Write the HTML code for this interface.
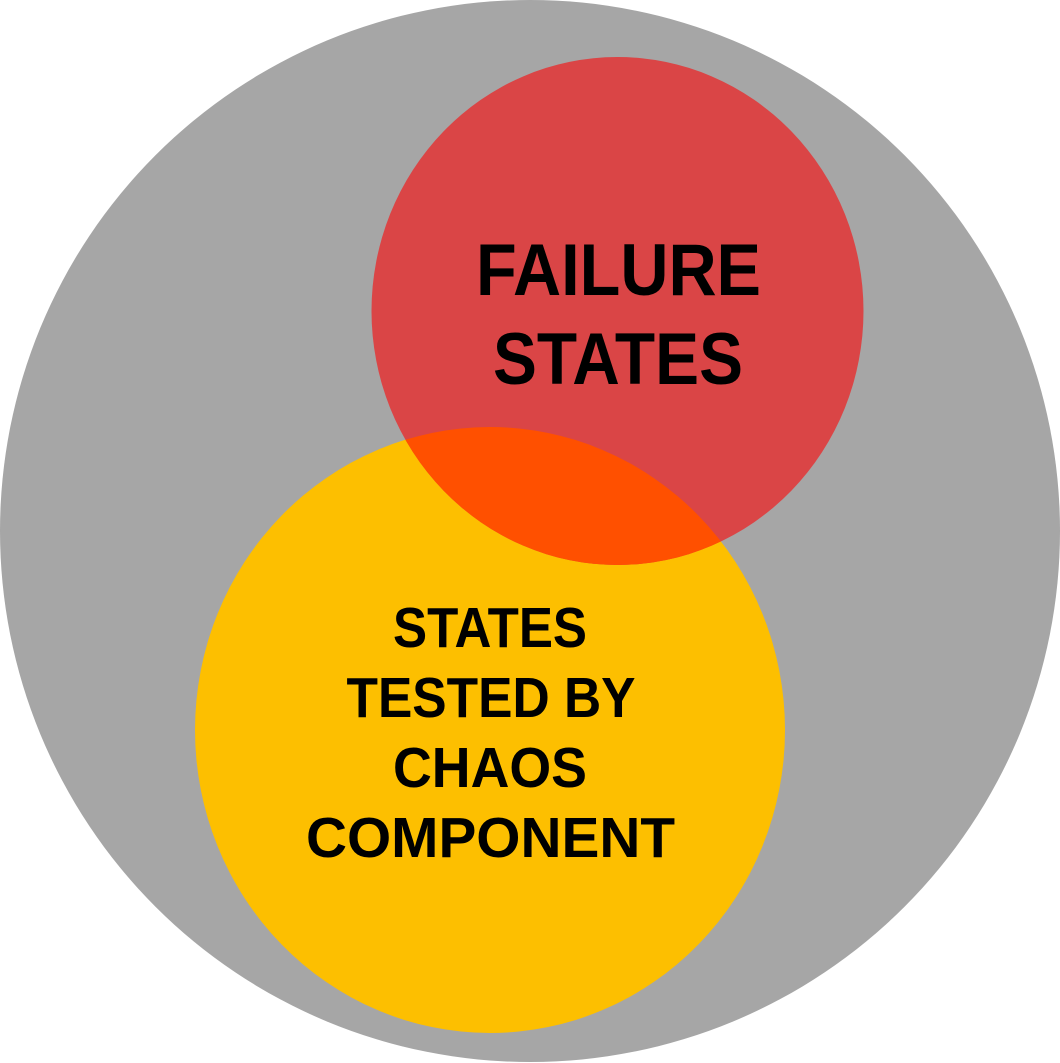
<!DOCTYPE html>
<html><head><style>html,body{margin:0;padding:0;background:#fff}svg{display:block}</style></head>
<body>
<svg width="1060" height="1063" viewBox="0 0 1060 1063" xmlns="http://www.w3.org/2000/svg">
<defs><clipPath id="y"><ellipse cx="490" cy="730" rx="295" ry="303"/></clipPath></defs>
<ellipse cx="530" cy="531" rx="530" ry="531" fill="#A6A6A6"/>
<ellipse cx="490" cy="730" rx="295" ry="303" fill="#FDBF00"/>
<ellipse cx="617.5" cy="311" rx="246" ry="254" fill="#DA4546"/>
<ellipse cx="617.5" cy="311" rx="246" ry="254" fill="#FF5000" clip-path="url(#y)"/>
<g font-family="Liberation Sans, sans-serif" font-weight="bold" text-anchor="middle" fill="#000">
<text x="618.5" y="295" font-size="73" textLength="285" lengthAdjust="spacingAndGlyphs">FAILURE</text>
<text x="618" y="384" font-size="73" textLength="250" lengthAdjust="spacingAndGlyphs">STATES</text>
<text x="490" y="647" font-size="57" textLength="194" lengthAdjust="spacingAndGlyphs">STATES</text>
<text x="491" y="717" font-size="57" textLength="289" lengthAdjust="spacingAndGlyphs">TESTED BY</text>
<text x="490" y="787" font-size="57" textLength="194" lengthAdjust="spacingAndGlyphs">CHAOS</text>
<text x="490.5" y="857" font-size="57" textLength="369" lengthAdjust="spacingAndGlyphs">COMPONENT</text>
</g>
</svg>
</body></html>
